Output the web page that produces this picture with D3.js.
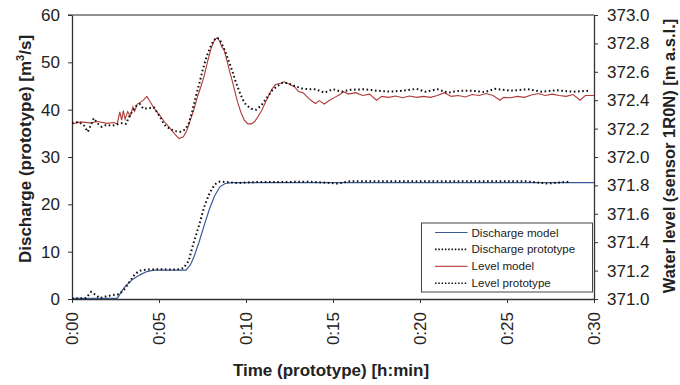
<!DOCTYPE html>
<html>
<head>
<meta charset="utf-8">
<script src="https://cdn.jsdelivr.net/npm/d3@7"></script>
<style>
  body { margin: 0; background: #fff; }
  text { font-family: Arial, "Liberation Sans", sans-serif; }
</style>
</head>
<body>
<div id="chart"></div>
<script>
// ------------------------- data (time in minutes)
var timeTicks = [0, 5, 10, 15, 20, 25, 30];
var dischargeTicks = [0, 10, 20, 30, 40, 50, 60];
var levelTicks = [371.0, 371.2, 371.4, 371.6, 371.8, 372.0, 372.2, 372.4, 372.6, 372.8, 373.0];

var qModelT = [0, 2.6, 3.0, 3.15, 3.5, 3.9, 4.3, 4.7, 5.5, 6.55, 6.8, 7.0, 7.3, 7.6, 7.9, 8.2, 8.5, 8.8, 9.2, 10, 15, 20, 25, 30];
var qModelV = [0.15, 0.15, 2.4, 3.0, 4.2, 5.1, 5.8, 6.1, 6.1, 6.1, 7.2, 8.8, 12.0, 15.6, 19.0, 21.8, 23.7, 24.4, 24.6, 24.6, 24.6, 24.6, 24.6, 24.6];

var qProtoT = [0, 0.8, 1.1, 1.3, 1.6, 2.0, 2.45, 2.7, 3.0, 3.3, 3.6, 3.9, 4.3, 5, 6, 6.4, 6.7, 7.0, 7.3, 7.6, 7.9, 8.2, 8.5, 8.9, 9.5, 10.5, 12, 13.5, 15.3, 16, 18, 20, 22, 24, 26, 27.3, 28, 28.6];
var qProtoV = [0.1, 0.2, 1.5, 1.0, 0.2, 0.6, 0.9, 1.0, 2.0, 3.6, 5.2, 6.0, 6.2, 6.3, 6.2, 6.5, 8.0, 12.0, 15.5, 19.5, 22.3, 24.2, 24.8, 24.7, 24.5, 24.7, 24.7, 24.8, 24.4, 24.9, 24.9, 24.9, 24.9, 24.9, 24.9, 24.4, 24.6, 24.8];

var lModelT = [0, 0.5, 1.0, 1.5, 2.0, 2.4, 2.6, 2.75, 2.85, 2.95, 3.05, 3.2, 3.35, 3.5, 3.6, 3.75, 3.9, 4.1, 4.3, 4.5, 4.7, 5.0, 5.3, 5.6, 5.9, 6.15, 6.4, 6.6, 6.8, 7.0, 7.2, 7.4, 7.6, 7.8, 8.0, 8.2, 8.35, 8.5, 8.6, 8.75, 8.9, 9.05, 9.2, 9.35, 9.5, 9.7, 9.9, 10.1, 10.3, 10.5, 10.7, 10.9, 11.1, 11.3, 11.5, 11.7, 12.0, 12.2, 12.5, 12.8, 13.0, 13.3, 13.6, 13.8, 14.0, 14.2, 14.5, 14.8, 15.1, 15.4, 15.6, 15.9, 16.3, 16.7, 17.1, 17.5, 17.8, 18.2, 18.6, 19.0, 19.4, 19.8, 20.2, 20.6, 21.0, 21.4, 21.8, 22.2, 22.6, 23.0, 23.4, 23.8, 24.2, 24.6, 24.8, 25.2, 25.6, 26.0, 26.4, 26.8, 27.2, 27.6, 28.0, 28.4, 28.8, 29.2, 29.5, 30.0];
var lModelV = [372.233, 372.247, 372.240, 372.250, 372.237, 372.243, 372.233, 372.317, 372.260, 372.327, 372.267, 372.320, 372.287, 372.353, 372.323, 372.373, 372.383, 372.400, 372.427, 372.387, 372.347, 372.300, 372.250, 372.207, 372.163, 372.130, 372.143, 372.187, 372.260, 372.333, 372.420, 372.493, 372.573, 372.677, 372.767, 372.827, 372.840, 372.813, 372.777, 372.750, 372.683, 372.607, 372.540, 372.467, 372.393, 372.317, 372.260, 372.233, 372.233, 372.250, 372.287, 372.327, 372.380, 372.433, 372.480, 372.510, 372.520, 372.530, 372.513, 372.493, 372.463, 372.450, 372.413, 372.393, 372.377, 372.397, 372.373, 372.400, 372.420, 372.440, 372.460, 372.443, 372.453, 372.433, 372.443, 372.400, 372.427, 372.420, 372.430, 372.417, 372.430, 372.420, 372.427, 372.420, 372.433, 372.453, 372.427, 372.433, 372.423, 372.440, 372.433, 372.447, 372.433, 372.400, 372.420, 372.417, 372.427, 372.420, 372.437, 372.447, 372.433, 372.443, 372.433, 372.427, 372.440, 372.400, 372.433, 372.433];

var lProtoT = [0, 0.4, 0.7, 0.9, 1.1, 1.25, 1.5, 1.7, 2.0, 2.3, 2.6, 2.9, 3.1, 3.3, 3.5, 3.7, 3.9, 4.1, 4.4, 4.7, 4.9, 5.1, 5.3, 5.6, 5.9, 6.2, 6.5, 6.7, 6.9, 7.1, 7.3, 7.5, 7.7, 7.9, 8.1, 8.3, 8.45, 8.6, 8.8, 9.0, 9.2, 9.4, 9.6, 9.8, 10.0, 10.3, 10.6, 10.9, 11.2, 11.5, 11.8, 12.1, 12.4, 12.8, 13.2, 13.6, 14.0, 14.5, 15.0, 15.5, 16.0, 16.8, 17.5, 18.3, 19.0, 19.8, 20.3, 21.0, 21.6, 22.3, 23.0, 23.7, 24.3, 25.2, 26.2, 27.0, 27.8, 28.8, 29.8];
var lProtoV = [372.240, 372.247, 372.220, 372.177, 372.227, 372.273, 372.233, 372.213, 372.227, 372.220, 372.230, 372.240, 372.233, 372.287, 372.327, 372.360, 372.373, 372.340, 372.343, 372.350, 372.313, 372.273, 372.227, 372.200, 372.183, 372.177, 372.193, 372.233, 372.317, 372.417, 372.510, 372.607, 372.693, 372.760, 372.813, 372.840, 372.833, 372.800, 372.747, 372.677, 372.610, 372.533, 372.467, 372.407, 372.367, 372.340, 372.333, 372.367, 372.417, 372.467, 372.500, 372.523, 372.520, 372.500, 372.483, 372.477, 372.477, 372.453, 372.477, 372.460, 372.473, 372.477, 372.467, 372.460, 372.467, 372.480, 372.460, 372.477, 372.453, 372.467, 372.467, 372.457, 372.480, 372.467, 372.477, 372.460, 372.470, 372.460, 372.467];

var legendLabels = ["Discharge model", "Discharge prototype", "Level model", "Level prototype"];

// ------------------------- chart
function zip(ts, vs) {
    return ts.map(function(t, i) { return [t, vs[i]]; });
}

function drawChart() {
    var svgWidth = 680;
    var svgHeight = 385;
    var left = 72, right = 594, top = 15, bottom = 299;

    var svg = d3.select('#chart').append('svg')
        .attr('width', svgWidth)
        .attr('height', svgHeight);

    var x = d3.scaleLinear().domain([0, 30]).range([left, right]);
    var yQ = d3.scaleLinear().domain([0, 60]).range([bottom, top]);
    var yL = d3.scaleLinear().domain([371, 373]).range([bottom, top]);

    // top border
    svg.append('line')
        .attr('x1', left - 4).attr('x2', right)
        .attr('y1', top).attr('y2', top)
        .attr('stroke', '#222').attr('stroke-width', 1);

    // left axis
    var gL = svg.append('g')
        .attr('transform', 'translate(' + left + ',0)')
        .call(d3.axisLeft(yQ).tickValues(dischargeTicks).tickSize(4).tickSizeOuter(0).tickPadding(8));
    // right axis
    var gR = svg.append('g')
        .attr('transform', 'translate(' + right + ',0)')
        .call(d3.axisRight(yL).tickValues(levelTicks).tickSize(4).tickSizeOuter(0).tickPadding(9)
            .tickFormat(d3.format('.1f')));
    // bottom axis
    var gB = svg.append('g')
        .attr('transform', 'translate(0,' + bottom + ')')
        .call(d3.axisBottom(x).tickValues(timeTicks).tickSize(4).tickSizeOuter(0)
            .tickFormat(function(d) { return '0:' + d3.format('02')(d); }));

    gB.selectAll('text')
        .attr('transform', 'rotate(-90)')
        .attr('x', -13)
        .attr('y', 0)
        .attr('dy', '0.35em')
        .style('text-anchor', 'end');

    [gL, gR, gB].forEach(function(g) {
        g.select('.domain').attr('stroke', '#333').attr('stroke-width', 1.3);
        g.selectAll('.tick line').attr('stroke', '#333');
        g.selectAll('text').attr('font-size', 17).attr('fill', '#222')
            .style('font-family', 'Arial, "Liberation Sans", sans-serif');
    });

    // series
    var line = d3.line()
        .x(function(d) { return x(d[0]); });

    svg.append('path')
        .datum(zip(qModelT, qModelV))
        .attr('fill', 'none').attr('stroke', '#3a5a96').attr('stroke-width', 1.2)
        .attr('d', line.y(function(d) { return yQ(d[1]); }));

    svg.append('path')
        .datum(zip(qProtoT, qProtoV))
        .attr('fill', 'none').attr('stroke', '#111').attr('stroke-width', 2)
        .attr('stroke-dasharray', '1.6,2.6')
        .attr('d', line.y(function(d) { return yQ(d[1]); }));

    svg.append('path')
        .datum(zip(lModelT, lModelV))
        .attr('fill', 'none').attr('stroke', '#b03a3a').attr('stroke-width', 1.1)
        .attr('d', line.y(function(d) { return yL(d[1]); }));

    svg.append('path')
        .datum(zip(lProtoT, lProtoV))
        .attr('fill', 'none').attr('stroke', '#111').attr('stroke-width', 2)
        .attr('stroke-dasharray', '1.6,2.6')
        .attr('d', line.y(function(d) { return yL(d[1]); }));

    // legend
    var lg = svg.append('g').attr('transform', 'translate(421.5,223)');
    lg.append('rect')
        .attr('width', 171).attr('height', 69)
        .attr('fill', '#fff').attr('stroke', '#444').attr('stroke-width', 1);
    var styles = [
        { color: '#3a5a96', width: 1.2, dash: null },
        { color: '#111', width: 1.6, dash: '1.5,1.8' },
        { color: '#c05050', width: 1.2, dash: null },
        { color: '#111', width: 1.6, dash: '1.5,1.8' }
    ];
    legendLabels.forEach(function(lbl, i) {
        var yy = 9.5 + i * 16.9;
        lg.append('line')
            .attr('x1', 13.5).attr('x2', 46).attr('y1', yy).attr('y2', yy)
            .attr('stroke', styles[i].color).attr('stroke-width', styles[i].width)
            .attr('stroke-dasharray', styles[i].dash);
        lg.append('text')
            .attr('x', 50).attr('y', yy).attr('dy', '0.35em')
            .attr('font-size', 11.6).attr('fill', '#222')
            .text(lbl);
    });

    // axis titles
    svg.append('text')
        .attr('x', 331).attr('y', 376)
        .attr('text-anchor', 'middle')
        .attr('font-size', 17).attr('font-weight', 'bold').attr('fill', '#222')
        .text('Time (prototype) [h:min]');

    var tl = svg.append('text')
        .attr('transform', 'translate(31,149) rotate(-90)')
        .attr('text-anchor', 'middle')
        .attr('font-size', 17).attr('font-weight', 'bold').attr('fill', '#222');
    tl.append('tspan').text('Discharge (prototype) [m');
    tl.append('tspan').attr('font-size', 11).attr('dy', -7).text('3');
    tl.append('tspan').attr('dy', 7).text('/s]');

    svg.append('text')
        .attr('transform', 'translate(675,156) rotate(-90)')
        .attr('text-anchor', 'middle')
        .attr('font-size', 16.5).attr('font-weight', 'bold').attr('fill', '#222')
        .text('Water level (sensor 1R0N) [m a.s.l.]');
}

drawChart();
</script>
</body>
</html>
